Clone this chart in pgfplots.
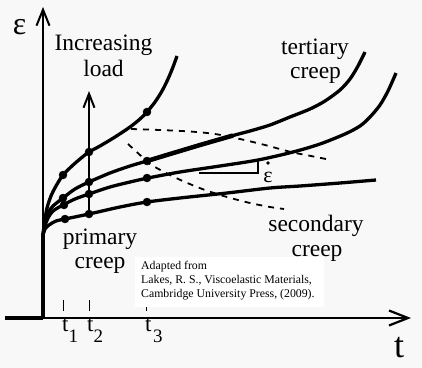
\documentclass[border=0pt]{standalone}
\usepackage{pgfplots}
\pgfplotsset{compat=1.18}
\usepackage{fontspec}
\setmainfont{Liberation Serif}
\usetikzlibrary{arrows.meta}
\newcommand\fs[1]{\fontsize{#1bp}{#1bp}\selectfont}
\definecolor{bg}{RGB}{248,248,248}
\begin{document}
\begin{tikzpicture}
\begin{axis}[width=422bp,height=368bp,scale only axis,
  xmin=0,xmax=422,ymin=0,ymax=368,y dir=reverse,
  hide axis,clip=false]
% background
\fill[bg] (axis cs:0,0) rectangle (axis cs:422,368);
% axes
\draw[line width=2bp,-{Straight Barb[length=16bp,width=13bp,line width=2bp]}] (axis cs:43,318) -- (axis cs:43,7);
\draw[line width=2.2bp,-{Straight Barb[length=19bp,width=15bp,line width=2.2bp]}] (axis cs:43,318) -- (axis cs:411,318);
\addplot[line width=4.5bp] coordinates {(5,318) (43,318)};
\addplot[line width=4bp] coordinates {(43,318) (43,235)};
% load arrow
\draw[line width=2bp,-{Straight Barb[length=14bp,width=11bp,line width=2bp]}] (axis cs:89,214) -- (axis cs:89,91);
% dashed lines
\addplot[line width=1.8bp,dash pattern=on 6bp off 6bp,smooth] coordinates {
(131,129) (160,130) (190,131.5) (215,134) (240,139) (265,145) (291,152) (311,156) (331,160)};
\addplot[line width=1.8bp,dash pattern=on 6bp off 6bp,smooth] coordinates {
(128,144) (140,155) (150,164) (168,174) (185,182) (205,190) (227,197) (250,203) (270,207) (284,209)};
% curves
\addplot[line width=3.3bp,smooth] coordinates {
(43,235) (44.5,222) (47,208) (51,196) (56,186) (63,175) (72,166) (80,159) (89,152) (100,146) (115,137) (130,127) (140,119) (147,112) (155,102) (162,91) (168,79) (173,67) (177,56)};
\addplot[line width=3.3bp,smooth] coordinates {
(43,235) (45,222) (48,213) (53,206) (63,198) (75,189) (89,182) (110,173) (130,166) (147,161) (170,154) (200,145) (235,135) (250,131) (270,125) (290,117) (310,109) (325,101) (340,90) (350,79) (358,66) (365,52)};
\addplot[line width=4.5bp] coordinates {(147,161) (170,154) (200,145) (233,135.5)};
\addplot[line width=3.3bp,smooth] coordinates {
(43,235) (45,226) (48,218) (53,211) (63,205) (75,199) (89,194) (110,187) (130,182) (148,178) (180,172) (220,166) (258,160) (293,152) (320,144) (345,134) (360,126) (370,117) (380,105) (388,91) (396,73)};
\addplot[line width=3.3bp,smooth] coordinates {
(43,235) (45,229) (49,225) (56,221) (65,219) (89,214) (120,207) (147,202) (180,198) (227,193) (270,188) (300,186) (340,183) (376,180)};
% dots
\addplot[only marks,mark=*,mark size=4bp] coordinates {
(63,175) (89,152) (147,112)
(63,198) (89,182) (147,161)
(64,205) (89,194) (147,178)
(65,219) (89,214) (147,202)};
% slope triangle
\draw[line width=2bp] (axis cs:199,173) -- (axis cs:258,173) -- (axis cs:258,160);
\node[anchor=base,font=\fs{22}] at (axis cs:268,182) {ε};
\fill (axis cs:268,163) circle[radius=1.8bp];
% ticks
\draw[line width=1bp] (axis cs:63,300) -- (axis cs:63,311);
\draw[line width=1bp] (axis cs:89,300) -- (axis cs:89,311);
\draw[line width=1bp] (axis cs:146,300) -- (axis cs:146,311);
% note box
\fill[white] (axis cs:135,257) rectangle (axis cs:324,307);
\node[anchor=base west,font=\fs{11.8},inner sep=0pt] at (axis cs:141,269) {Adapted from};
\node[anchor=base west,font=\fs{11.8},inner sep=0pt] at (axis cs:141,283) {Lakes, R. S., Viscoelastic Materials,};
\node[anchor=base west,font=\fs{11.8},inner sep=0pt] at (axis cs:141,297) {Cambridge University Press, (2009).};
% labels
\node[font=\fs{32},inner sep=0pt] at (axis cs:19.5,27) {ε};
\node[anchor=base,font=\fs{36},inner sep=0pt] at (axis cs:399,357) {t};
\node[anchor=base,font=\fs{23.5},inner sep=0pt] at (axis cs:103.5,50) {Increasing};
\node[anchor=base,font=\fs{23.5},inner sep=0pt] at (axis cs:103.5,76) {load};
\node[anchor=base,font=\fs{23.5},inner sep=0pt] at (axis cs:315,54) {tertiary};
\node[anchor=base,font=\fs{23.5},inner sep=0pt] at (axis cs:315.5,78) {creep};
\node[anchor=base,font=\fs{23.5},inner sep=0pt] at (axis cs:100,244) {primary};
\node[anchor=base,font=\fs{23.5},inner sep=0pt] at (axis cs:100,268) {creep};
\node[anchor=base,font=\fs{23.5},inner sep=0pt] at (axis cs:316,231) {secondary};
\node[anchor=base,font=\fs{23.5},inner sep=0pt] at (axis cs:317,256) {creep};
\node[anchor=base west,font=\fs{23},inner sep=0pt] at (axis cs:62,331) {t};
\node[anchor=base west,font=\fs{19},inner sep=0pt] at (axis cs:68.5,342) {1};
\node[anchor=base west,font=\fs{23},inner sep=0pt] at (axis cs:87,331) {t};
\node[anchor=base west,font=\fs{19},inner sep=0pt] at (axis cs:93.5,342) {2};
\node[anchor=base west,font=\fs{23},inner sep=0pt] at (axis cs:145,331) {t};
\node[anchor=base west,font=\fs{19},inner sep=0pt] at (axis cs:153,342) {3};
\end{axis}
\end{tikzpicture}
\end{document}
